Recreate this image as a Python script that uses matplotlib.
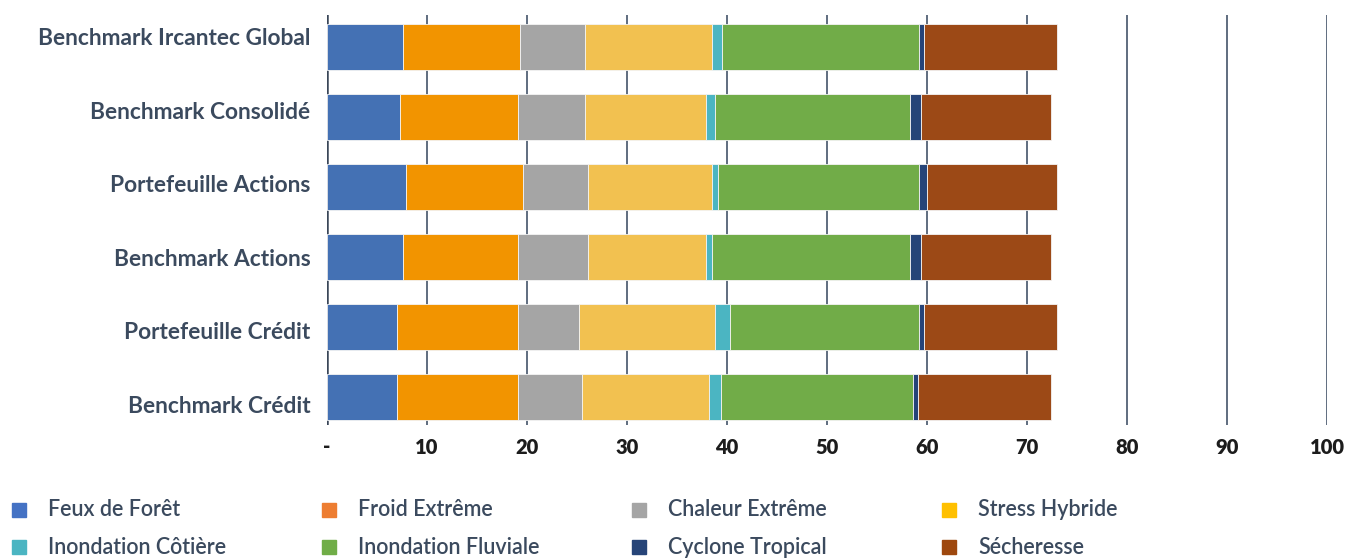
import matplotlib.pyplot as plt
from matplotlib.patches import Rectangle

plt.rcParams['font.family'] = ['Lato', 'DejaVu Sans']

# portfolios / benchmarks (top to bottom)
portfolios = ["Benchmark Ircantec Global", "Benchmark Consolidé", "Portefeuille Actions",
              "Benchmark Actions", "Portefeuille Crédit", "Benchmark Crédit"]

risks = ["Feux de Forêt", "Froid Extrême", "Chaleur Extrême", "Stress Hybride",
         "Inondation Côtière", "Inondation Fluviale", "Cyclone Tropical", "Sécheresse"]

feux = [7.6, 7.3, 7.9, 7.6, 7.0, 7.0]
froid = [11.7, 11.8, 11.7, 11.5, 12.1, 12.1]
chaleur = [6.5, 6.7, 6.5, 7.0, 6.1, 6.4]
stress = [12.7, 12.1, 12.4, 11.8, 13.6, 12.7]
cotiere = [1.0, 0.9, 0.6, 0.6, 1.5, 1.2]
fluviale = [19.7, 19.5, 20.1, 19.8, 18.9, 19.2]
cyclone = [0.5, 1.1, 0.8, 1.1, 0.5, 0.5]
secheresse = [13.3, 13.0, 13.0, 13.0, 13.3, 13.3]

xticks = [0, 10, 20, 30, 40, 50, 60, 70, 80, 90, 100]
xticklabels = ["-", "10", "20", "30", "40", "50", "60", "70", "80", "90", "100"]

series = [feux, froid, chaleur, stress, cotiere, fluviale, cyclone, secheresse]
bar_colors = ["#4471B4", "#F29400", "#A5A5A5", "#F2C150",
              "#4BB5C2", "#71AC48", "#264478", "#9C4916"]
legend_colors = ["#4472C4", "#ED7D31", "#A5A5A5", "#FFC000",
                 "#4BB5C2", "#70AD47", "#264478", "#9E480E"]

W, H = 1361, 558
fig = plt.figure(figsize=(W / 100, H / 100), dpi=100)
ax = fig.add_axes([327 / W, 1 - 425 / H, 1000 / W, 410 / H])

y = list(range(len(portfolios)))
left = [0.0] * len(portfolios)
for vals, col in zip(series, bar_colors):
    ax.barh(y, vals, left=left, height=0.66, color=col,
            edgecolor="#f4f4f4", linewidth=0.6, zorder=3)
    left = [l + v for l, v in zip(left, vals)]

ax.set_xlim(0, 100)
ax.set_ylim(len(portfolios) - 0.6, -0.46)
ax.set_xticks(xticks)
ax.set_xticklabels(xticklabels, fontsize=14.5, fontweight="heavy", color="#1c1c1c")
ax.set_yticks(y)
ax.set_yticklabels([])
ax.tick_params(length=0)
ax.tick_params(axis="x", pad=9)
ax.xaxis.grid(True, color="#44546A", linewidth=1.2, zorder=0)
ax.axvline(0, color="#3a4658", linewidth=1.8, zorder=2)
for s in ax.spines.values():
    s.set_visible(False)

# category labels sit on their own, slightly taller band
lab = fig.add_axes([327 / W, 1 - 441 / H, 1 / W, 441 / H])
lab.set_ylim(len(portfolios) - 0.5, -0.5)
lab.set_yticks(y)
lab.set_yticklabels(portfolios, fontsize=16.4, fontweight="bold", color="#3b4a5e")
lab.tick_params(length=0, axis="y", pad=12)
lab.set_xticks([])
lab.patch.set_visible(False)
for s in lab.spines.values():
    s.set_visible(False)

# legend: 4 columns x 2 rows
for i, (name, col) in enumerate(zip(risks, legend_colors)):
    c, r = i % 4, i // 4
    x0 = (12 + 310 * c) / W
    y0 = 1 - (510 + 37 * r) / H
    fig.add_artist(Rectangle((x0, y0 - 7 / H), 14 / W, 14 / H,
                             transform=fig.transFigure, color=col))
    fig.text(x0 + 36 / W, y0, name, fontsize=15.5, color="#3b4a5e",
             va="center", ha="left", fontweight="semibold")

fig.savefig("out.png", dpi=100)
